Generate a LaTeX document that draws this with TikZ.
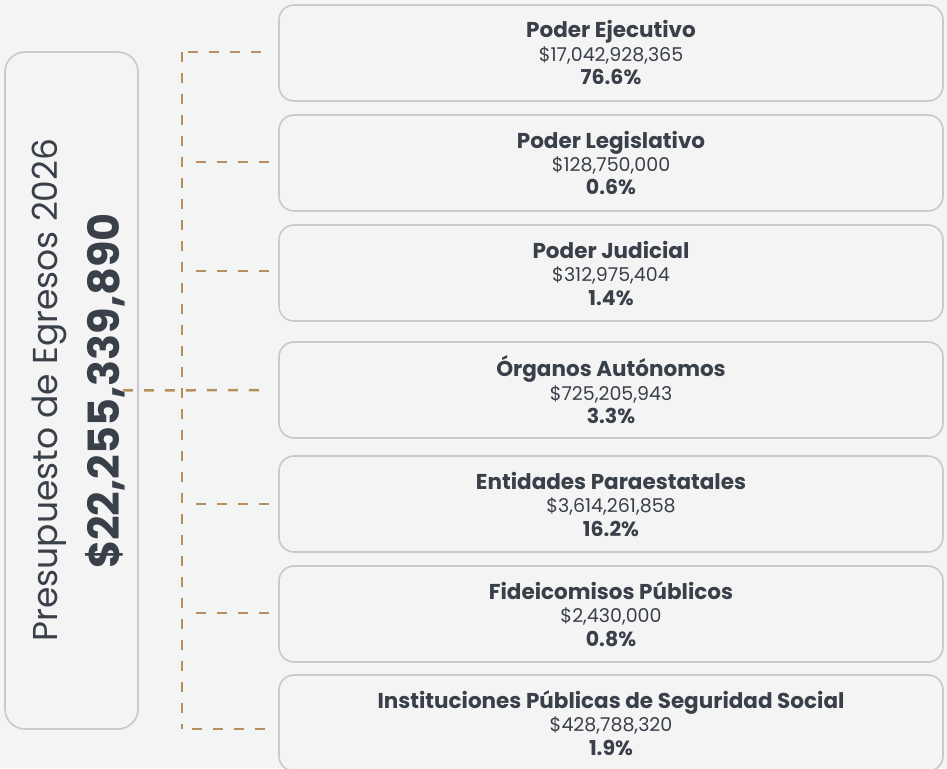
\documentclass[tikz,border=0pt]{standalone}
\usepackage{fontspec}
\setmainfont{Poppins}
\definecolor{bg}{HTML}{F3F4F4}
\definecolor{boxfill}{HTML}{F4F4F4}
\definecolor{boxline}{HTML}{C9C9C9}
\definecolor{txt}{HTML}{3A4049}
\definecolor{tan}{HTML}{B6915F}
\begin{document}
\begin{tikzpicture}[x=1pt,y=-1pt,
  catbox/.style={draw=boxline, line width=1.6pt, fill=boxfill, rounded corners=15pt,
    minimum width=664pt, minimum height=96pt, align=center, text=txt, inner sep=0pt,
    font=\fontsize{19}{23.5}\selectfont},
  conn/.style={draw=tan, line width=2.5pt, dash pattern=on 10pt off 11pt},
]
\useasboundingbox[fill=bg] (0,0) rectangle (947,768);
\newcommand{\catlines}[3]{{\fontsize{21.5}{23.5}\selectfont\bfseries #1}\\{\fontsize{19}{23.5}\selectfont #2}\\{\fontsize{20.5}{23.5}\selectfont\bfseries #3}}

\node[draw=boxline, line width=1.6pt, fill=boxfill, rounded corners=20pt,
  minimum width=133pt, minimum height=677pt] (total) at (71.5,390.5) {};
\node[rotate=90, text=txt, font=\fontsize{34.5}{40}\selectfont] (ttlL) at (49,390) {Presupuesto de Egresos 2026};
\node[rotate=90, text=txt, font=\fontsize{43}{48}\selectfont\bfseries] (amtL) at (105,391) {\$22,255,339,890};

\node[catbox] (b1) at (611,53) {\catlines{Poder Ejecutivo}{\$17,042,928,365}{76.6\%}};
\node[catbox] (b2) at (611,163) {\catlines{Poder Legislativo}{\$128,750,000}{0.6\%}};
\node[catbox] (b3) at (611,273) {\catlines{Poder Judicial}{\$312,975,404}{1.4\%}};
\node[catbox] (b4) at (611,390) {\catlines{Órganos Autónomos}{\$725,205,943}{3.3\%}};
\node[catbox] (b5) at (611,504) {\catlines{Entidades Paraestatales}{\$3,614,261,858}{16.2\%}};
\node[catbox] (b6) at (611,614) {\catlines{Fideicomisos Públicos}{\$2,430,000}{0.8\%}};
\node[catbox] (b7) at (611,723) {\catlines{Instituciones Públicas de Seguridad Social}{\$428,788,320}{1.9\%}};

\coordinate (top) at (182,52);
\coordinate (bot) at (182,729);
\path[conn] (top) -- (bot);
\path[conn] (top) ++(6,0) -- ([xshift=-14pt,yshift=1pt]b1.west);
\path[conn] (196,162) -- ([xshift=-7pt,yshift=1pt]b2.west);
\path[conn] (196,271) -- ([xshift=-7pt,yshift=2pt]b3.west);
\path[conn] ([xshift=-16pt]total.east) -- ([xshift=-17pt]b4.west);
\path[conn] (196,504) -- ([xshift=-7pt]b5.west);
\path[conn] (196,613) -- ([xshift=-7pt,yshift=1pt]b6.west);
\path[conn] (bot) ++(10,0) -- ([xshift=-11pt,yshift=-6pt]b7.west);
\end{tikzpicture}
\end{document}
